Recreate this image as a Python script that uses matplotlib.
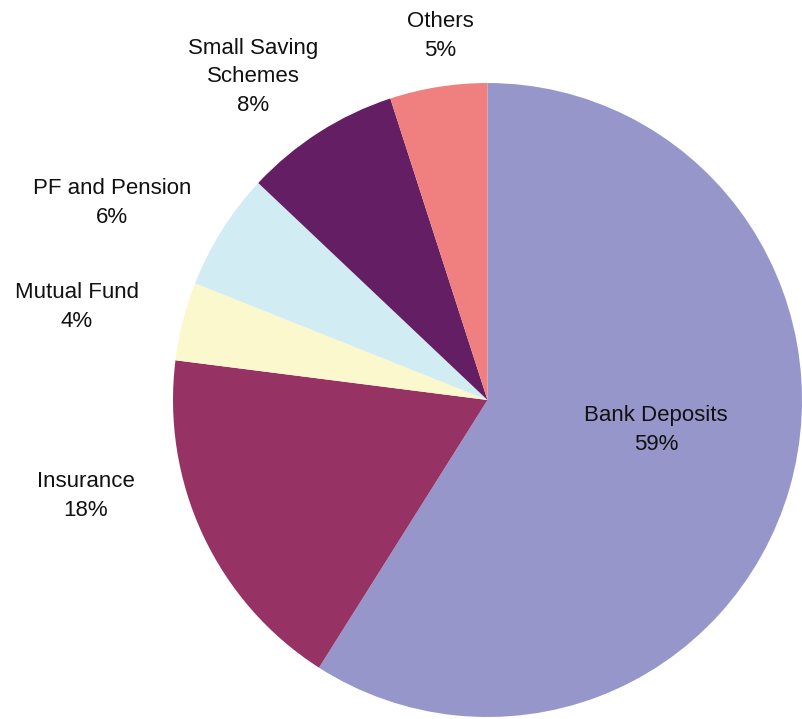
import matplotlib.pyplot as plt

# Data
categories = ['Bank Deposits', 'Insurance', 'Mutual Fund', 'PF and Pension',
              'Small Saving\nSchemes', 'Others']
shares = [59, 18, 4, 6, 8, 5]
colors = ['#9696CA', '#963264', '#FAF8CC', '#D2ECF4', '#641E64', '#F08080']

# Label centres in pixels (x, y from top)
label_pos = [(656, 430), (86, 496), (77, 307), (112, 203), (253, 77), (440, 36)]

W, H = 803, 719
fig = plt.figure(figsize=(W / 100, H / 100), dpi=100)
fig.patch.set_facecolor('white')

# Pie area in pixels: left 173, right 802, top 83, bottom 717
ax = fig.add_axes([173 / W, (H - 717) / H, 629 / W, 634 / H])
ax.pie(shares, colors=colors, startangle=90, counterclock=False,
       radius=1, wedgeprops={'linewidth': 0})
ax.set_xlim(-1, 1)
ax.set_ylim(-1, 1)
ax.set_aspect('auto')
ax.axis('off')

for name, val, (px, py) in zip(categories, shares, label_pos):
    fig.text(px / W, 1 - py / H, f'{name}\n{val}%', ha='center', va='center',
             fontsize=16, family='Liberation Sans', color='#111111',
             linespacing=1.45)

fig.savefig('out.png', dpi=100, facecolor='white')
